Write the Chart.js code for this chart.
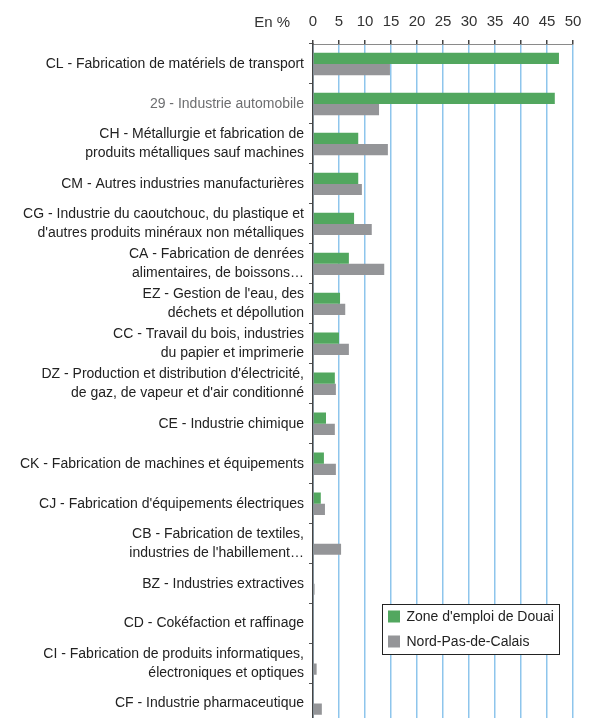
<!DOCTYPE html>
<html>
<head>
<meta charset="utf-8">
<script src="https://cdn.jsdelivr.net/npm/chart.js@4"></script>
<style>
  html, body { margin: 0; padding: 0; background: #fff; overflow: hidden; }
  #wrap { position: absolute; left: 0; top: 0; width: 593px; height: 738px; }
</style>
</head>
<body>
<div id="wrap"><canvas id="chartSecteurs" width="593" height="738"></canvas></div>
<script>
// Secteurs industriels
const secteurs = [
  ["CL - Fabrication de matériels de transport"],
  ["29 - Industrie automobile"],
  ["CH - Métallurgie et fabrication de", "produits métalliques sauf machines"],
  ["CM - Autres industries manufacturières"],
  ["CG - Industrie du caoutchouc, du plastique et", "d'autres produits minéraux non métalliques"],
  ["CA - Fabrication de denrées", "alimentaires, de boissons…"],
  ["EZ - Gestion de l'eau, des", "déchets et dépollution"],
  ["CC - Travail du bois, industries", "du papier et imprimerie"],
  ["DZ - Production et distribution d'électricité,", "de gaz, de vapeur et d'air conditionné"],
  ["CE - Industrie chimique"],
  ["CK - Fabrication de machines et équipements"],
  ["CJ - Fabrication d'équipements électriques"],
  ["CB - Fabrication de textiles,", "industries de l'habillement…"],
  ["BZ - Industries extractives"],
  ["CD - Cokéfaction et raffinage"],
  ["CI - Fabrication de produits informatiques,", "électroniques et optiques"],
  ["CF - Industrie pharmaceutique"]
];

const douai = [47.3, 46.5, 8.7, 8.7, 7.9, 6.9, 5.2, 5.0, 4.2, 2.5, 2.1, 1.5, 0, 0, 0, 0, 0];
const nordPasDeCalais = [14.8, 12.7, 14.4, 9.4, 11.3, 13.7, 6.2, 6.9, 4.4, 4.2, 4.4, 2.3, 5.4, 0.3, 0, 0.7, 1.7];

const ticksX = [0, 5, 10, 15, 20, 25, 30, 35, 40, 45, 50];

const VERT = "#52a75f";
const GRIS = "#949598";

// Légende encadrée + "En %"
const decor = {
  id: "decor",
  afterDraw(chart) {
    const ctx = chart.ctx;
    const area = chart.chartArea;
    ctx.save();
    ctx.font = "15px 'Liberation Sans', Arial, sans-serif";
    ctx.fillStyle = "#333";
    ctx.textAlign = "right";
    ctx.textBaseline = "middle";
    ctx.fillText("En %", area.left - 23, 23);

    const bx = 382.5, by = 604.5, bw = 177, bh = 50;
    ctx.fillStyle = "#fff";
    ctx.fillRect(bx, by, bw, bh);
    ctx.strokeStyle = "#222";
    ctx.lineWidth = 1;
    ctx.strokeRect(bx, by, bw, bh);
    ctx.font = "14px 'Liberation Sans', Arial, sans-serif";
    ctx.textAlign = "left";
    chart.data.datasets.forEach((ds, i) => {
      const y = by + 12 + i * 25;
      ctx.fillStyle = ds.backgroundColor;
      ctx.fillRect(bx + 5.5, y - 6, 12, 12);
      ctx.fillStyle = "#222";
      ctx.fillText(ds.label, bx + 24, y + 1);
    });
    ctx.restore();
  }
};

new Chart(document.getElementById("chartSecteurs"), {
  type: "bar",
  data: {
    labels: secteurs,
    datasets: [
      { label: "Zone d'emploi de Douai", data: douai, backgroundColor: VERT, categoryPercentage: 0.56, barPercentage: 1 },
      { label: "Nord-Pas-de-Calais", data: nordPasDeCalais, backgroundColor: GRIS, categoryPercentage: 0.56, barPercentage: 1 }
    ]
  },
  options: {
    indexAxis: "y",
    responsive: false,
    animation: false,
    layout: { padding: { left: 0, right: 20, top: 0, bottom: 0 } },
    plugins: {
      legend: { display: false },
      tooltip: { enabled: false }
    },
    scales: {
      x: {
        position: "top",
        min: 0,
        max: 50,
        afterBuildTicks(scale) { scale.ticks = ticksX.map(v => ({ value: v })); },
        afterFit(scale) { scale.height = 44; },
        border: { display: true, color: "#8a8a8a", width: 1 },
        grid: { color: "#8ec5ec", lineWidth: 1.5, tickColor: "#444", tickLength: 4 },
        ticks: {
          color: "#333",
          padding: 9,
          font: { family: "'Liberation Sans', Arial, sans-serif", size: 15 }
        }
      },
      y: {
        afterFit(scale) { scale.width = 313; },
        border: { display: true, color: "#444", width: 1.5 },
        grid: { drawOnChartArea: false, tickColor: "#555", tickLength: 4 },
        ticks: {
          autoSkip: false,
          padding: 5,
          color: ctx => ctx.index === 1 ? "#6d6e70" : "#222",
          font: { family: "'Liberation Sans', Arial, sans-serif", size: 14, lineHeight: 1.35 }
        }
      }
    }
  },
  plugins: [decor]
});
</script>
</body>
</html>
